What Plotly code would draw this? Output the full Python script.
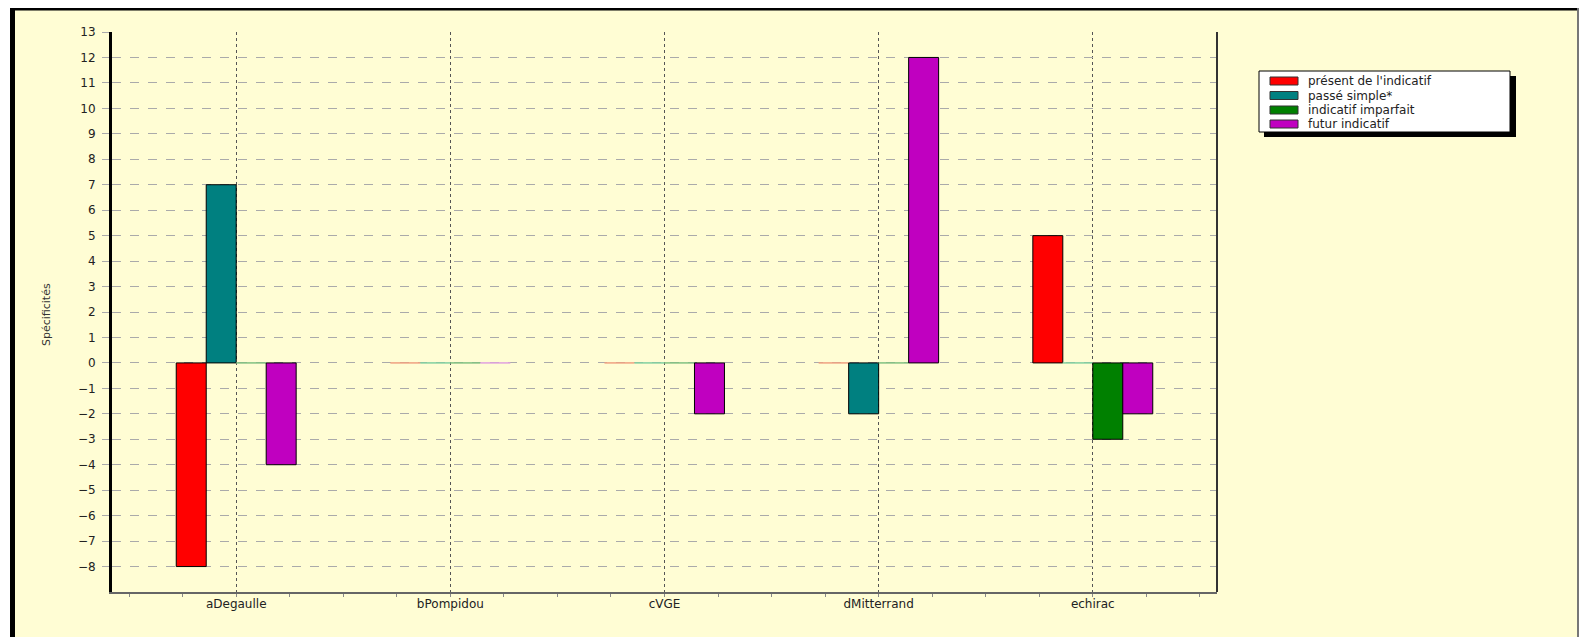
import plotly.graph_objects as go

categories = ["aDegaulle", "bPompidou", "cVGE", "dMitterrand", "echirac"]
series_names = ["présent de l'indicatif", "passé simple*", "indicatif imparfait", "futur indicatif"]
present = [-8, 0, 0, 0, 5]
passe_simple = [7, 0, 0, -2, 0]
imparfait = [0, 0, 0, 0, -3]
futur = [-4, 0, -2, 12, -2]
colors = ["#FF0000", "#008080", "#008000", "#C000C0"]
zero_colors = ["#F0A080", "#80D0A0", "#80C080", "#E0A0E0"]
y_ticks = list(range(-8, 14))

# window coords (page body has an 8px margin)
WIN_W, WIN_H, OFF = 1587, 637, 8
W, H = WIN_W - OFF, WIN_H - OFF
L, R, T, B = 112, 1217, 32, 592
pw, ph = R - L, B - T

def px(x):
    return (x - L) / pw

def py(y):
    return (B - y) / ph

FONT = "DejaVu Sans, Verdana, Arial"

fig = go.Figure()
xs = list(range(len(categories)))
for name, vals, col, zc in zip(series_names, [present, passe_simple, imparfait, futur], colors, zero_colors):
    fig.add_trace(go.Bar(x=xs, y=vals, name=name, showlegend=False,
                         marker=dict(color=col,
                                     line=dict(color=["black" if v != 0 else zc for v in vals], width=1))))

bg = "#FFFDD4"
fig.update_layout(
    width=W, height=H,
    margin=dict(l=L - OFF, r=WIN_W - R, t=T - OFF, b=WIN_H - B),
    paper_bgcolor=bg, plot_bgcolor=bg,
    barmode="group", bargap=0.44, bargroupgap=0,
    font=dict(family=FONT, size=12, color="#222"),
    showlegend=False,
)
fig.update_xaxes(range=[-0.58, 4.58], tickvals=xs, ticktext=categories,
                 showgrid=True, gridcolor="#555", griddash="dot", gridwidth=1,
                 showline=True, linecolor="#666", linewidth=2,
                 ticks="", zeroline=False,
                 minor=dict(dtick=0.25, tick0=0, ticks="outside", ticklen=3, tickcolor="#888", showgrid=False),
                 tickfont=dict(size=12, family=FONT))
fig.update_yaxes(range=[-9, 13], tickvals=y_ticks,
                 showgrid=True, gridcolor="#AAA", griddash="dash", gridwidth=1,
                 showline=True, linecolor="black", linewidth=3,
                 ticks="outside", ticklen=7, tickcolor="#AAA", ticklabelstandoff=4,
                 zeroline=False, tickfont=dict(size=12, family=FONT))

# right edge of plot area
fig.add_shape(type="line", xref="paper", yref="paper", x0=1, x1=1, y0=0, y1=1,
              line=dict(color="#333", width=2))

# outer frame
fig.add_shape(type="rect", xref="paper", yref="paper", x0=px(0), x1=px(10), y0=py(0), y1=py(640),
              fillcolor="white", line=dict(width=0))
fig.add_shape(type="rect", xref="paper", yref="paper", x0=px(1580), x1=px(1600), y0=py(0), y1=py(640),
              fillcolor="white", line=dict(width=0))
fig.add_shape(type="line", xref="paper", yref="paper", x0=px(10), x1=px(1580), y0=py(8.5), y1=py(8.5),
              line=dict(color="black", width=4))
fig.add_shape(type="line", xref="paper", yref="paper", x0=px(12.5), x1=px(12.5), y0=py(6), y1=py(640),
              line=dict(color="black", width=5))
fig.add_shape(type="line", xref="paper", yref="paper", x0=px(1578), x1=px(1578), y0=py(6), y1=py(640),
              line=dict(color="#777", width=2))

# legend (drawn by hand to match the compact original)
fig.add_shape(type="rect", xref="paper", yref="paper",
              x0=px(1264), x1=px(1516), y0=py(137), y1=py(76),
              fillcolor="black", line=dict(width=0))
fig.add_shape(type="rect", xref="paper", yref="paper",
              x0=px(1259), x1=px(1510), y0=py(132), y1=py(71),
              fillcolor="white", line=dict(color="black", width=1))
row_y = [81, 95.5, 110, 124]
for name, col, yy in zip(series_names, colors, row_y):
    fig.add_shape(type="rect", xref="paper", yref="paper",
                  x0=px(1270), x1=px(1298), y0=py(yy + 4), y1=py(yy - 4),
                  fillcolor=col, line=dict(color="#333", width=1))
    fig.add_annotation(text=name, xref="paper", yref="paper", x=px(1306), y=py(yy),
                       xanchor="left", yanchor="middle", showarrow=False,
                       font=dict(size=12, family=FONT, color="#222"))

fig.add_annotation(text="Spécificités", xref="paper", yref="paper", x=px(46), y=py(315),
                   textangle=-90, showarrow=False, font=dict(size=11, family=FONT, color="#333"),
                   xanchor="center", yanchor="middle")

fig.write_html("out.html")
